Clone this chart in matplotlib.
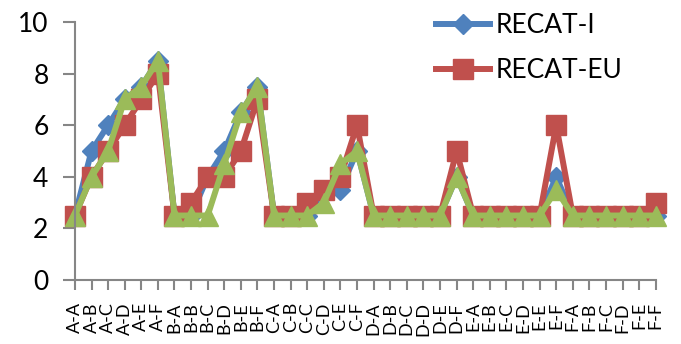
import numpy as np
import matplotlib
matplotlib.use("Agg")
from matplotlib import pyplot as plt

plt.rcParams['font.family'] = ['Lato', 'DejaVu Sans']

# leader-follower pairs
pairs = ['A-A', 'A-B', 'A-C', 'A-D', 'A-E', 'A-F',
         'B-A', 'B-B', 'B-C', 'B-D', 'B-E', 'B-F',
         'C-A', 'C-B', 'C-C', 'C-D', 'C-E', 'C-F',
         'D-A', 'D-B', 'D-C', 'D-D', 'D-E', 'D-F',
         'E-A', 'E-B', 'E-C', 'E-D', 'E-E', 'E-F',
         'F-A', 'F-B', 'F-C', 'F-D', 'F-E', 'F-F']

recat_i = [2.5, 5, 6, 7, 7.5, 8.5,
           2.5, 2.5, 4, 5, 6.5, 7.5,
           2.5, 2.5, 2.5, 3.5, 3.5, 5,
           2.5, 2.5, 2.5, 2.5, 2.5, 4,
           2.5, 2.5, 2.5, 2.5, 2.5, 4,
           2.5, 2.5, 2.5, 2.5, 2.5, 2.5]

recat_eu = [2.5, 4, 5, 6, 7, 8,
            2.5, 3, 4, 4, 5, 7,
            2.5, 2.5, 3, 3.5, 4, 6,
            2.5, 2.5, 2.5, 2.5, 2.5, 5,
            2.5, 2.5, 2.5, 2.5, 2.5, 6,
            2.5, 2.5, 2.5, 2.5, 2.5, 3]

third_series = [2.5, 4, 5, 7, 7.5, 8.5,
                2.5, 2.5, 2.5, 4.5, 6.5, 7.5,
                2.5, 2.5, 2.5, 3, 4.5, 5,
                2.5, 2.5, 2.5, 2.5, 2.5, 4,
                2.5, 2.5, 2.5, 2.5, 2.5, 3.5,
                2.5, 2.5, 2.5, 2.5, 2.5, 2.5]

y_ticks = [0, 2, 4, 6, 8, 10]

BLUE = '#4F81BD'
RED = '#C0504D'
GREEN = '#9BBB59'
GREY = '#868686'

DPI = 100
fig = plt.figure(figsize=(681 / DPI, 344 / DPI), dpi=DPI)
ax = fig.add_axes([0.110, 0.186, 0.853, 0.750])

x = np.arange(len(pairs))
l1, = ax.plot(x, recat_i, color=BLUE, lw=4.3, marker='D', ms=10,
              mec=BLUE, mfc=BLUE, solid_joinstyle='round', label='RECAT-I')
l2, = ax.plot(x, recat_eu, color=RED, lw=4.3, marker='s', ms=14.4,
              mec=RED, mfc=RED, solid_joinstyle='round', label='RECAT-EU')
l3, = ax.plot(x, third_series, color=GREEN, lw=4.3, marker='^', ms=15,
              mec=GREEN, mfc=GREEN, solid_joinstyle='round')

ax.set_xlim(0, len(pairs) - 1)
ax.set_ylim(0, 10)
ax.set_yticks(y_ticks)
ax.set_yticklabels([str(v) for v in y_ticks], fontsize=19)
ax.set_xticks(x)
ax.set_xticklabels(pairs, rotation=90, fontsize=13)

for side in ['top', 'right']:
    ax.spines[side].set_visible(False)
for side in ['left', 'bottom']:
    ax.spines[side].set_color(GREY)
    ax.spines[side].set_linewidth(1.5)
ax.tick_params(axis='y', length=9, width=1.5, color=GREY, pad=10)
ax.tick_params(axis='x', length=7, width=1.5, color=GREY, pad=9)
for line in [l1, l2, l3]:
    line.set_clip_on(False)

fig.legend(handles=[l1, l2], loc='upper left', bbox_to_anchor=(0.605, 1.03),
           frameon=False, fontsize=19, handlelength=2.05, handletextpad=0.2,
           labelspacing=0.75, markerscale=1.0)

plt.savefig('out.png', dpi=DPI)
